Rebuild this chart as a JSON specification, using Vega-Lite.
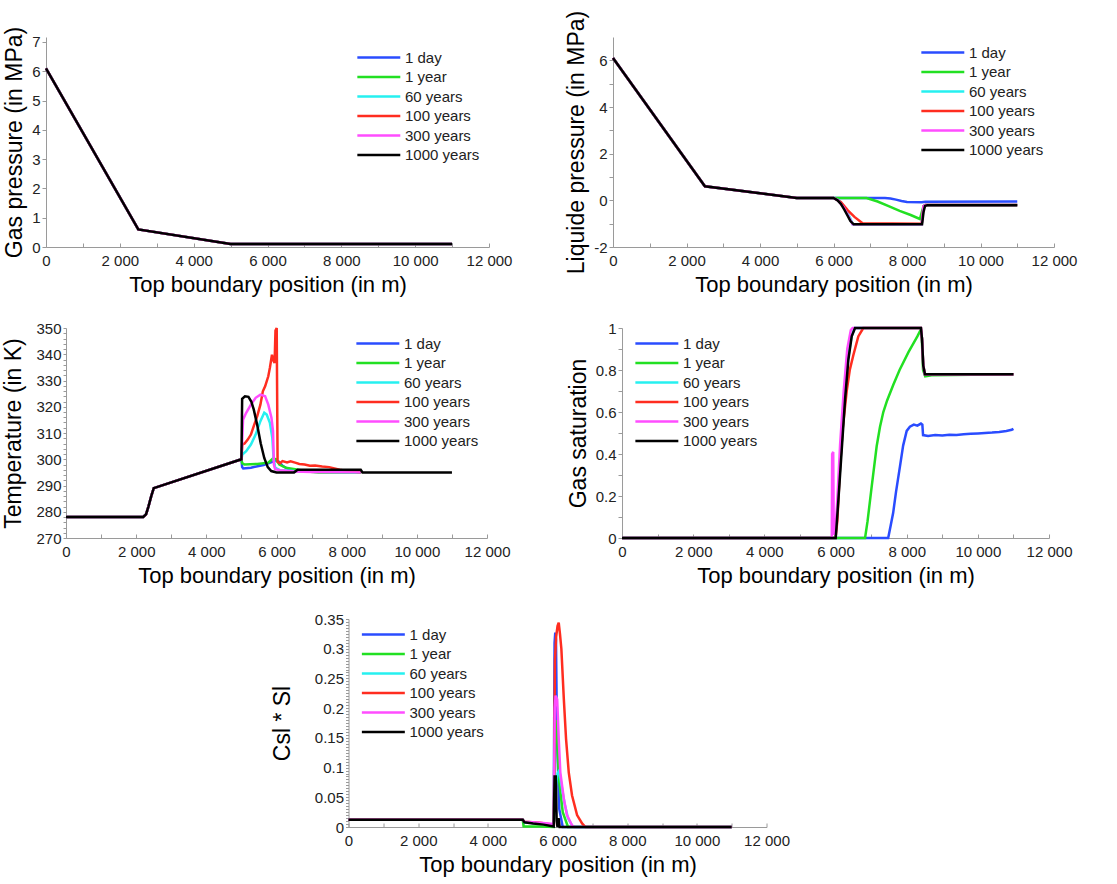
{
"$schema": "https://vega.github.io/schema/vega-lite/v6.json",
"padding": {"left": 2, "top": 10, "right": 5, "bottom": 5},
"background": "white",
"config": {
 "view": {"stroke": null},
 "axis": {"labelFont": "Liberation Sans", "titleFont": "Liberation Sans", "labelFontSize": 15, "titleFontSize": 22, "titleFontWeight": "normal", "labelColor": "#222222", "titleColor": "#000000", "domainColor": "#9a9a9a", "tickColor": "#9a9a9a", "grid": false, "labelOverlap": false, "labelFlush": false, "labelBound": false},
 "axisY": {"titleFontSize": 23, "tickSize": 4, "labelPadding": 2, "titlePadding": 5},
 "axisX": {"tickSize": -4, "labelPadding": 10, "titlePadding": 6},
 "legend": {"title": null, "labelFont": "Liberation Sans", "labelFontSize": 15, "labelColor": "#222222", "symbolType": "M-1,0H5", "symbolSize": 205, "symbolStrokeWidth": 3, "labelOffset": 32, "padding": 0, "rowPadding": 2.5, "orient": "none"},
 "line": {"strokeWidth": 2.5}
},
"datasets": {
 "gp": [
  {"t":"1 day","x":0,"y":6.1},{"t":"1 day","x":2500,"y":0.6},{"t":"1 day","x":5000,"y":0.1},{"t":"1 day","x":11000,"y":0.1},
  {"t":"1 year","x":0,"y":6.1},{"t":"1 year","x":2500,"y":0.6},{"t":"1 year","x":5000,"y":0.1},{"t":"1 year","x":11000,"y":0.1},
  {"t":"60 years","x":0,"y":6.1},{"t":"60 years","x":2500,"y":0.6},{"t":"60 years","x":5000,"y":0.1},{"t":"60 years","x":11000,"y":0.1},
  {"t":"100 years","x":0,"y":6.1},{"t":"100 years","x":2500,"y":0.6},{"t":"100 years","x":5000,"y":0.1},{"t":"100 years","x":11000,"y":0.1},
  {"t":"300 years","x":0,"y":6.1},{"t":"300 years","x":2500,"y":0.6},{"t":"300 years","x":5000,"y":0.1},{"t":"300 years","x":11000,"y":0.1},
  {"t":"1000 years","x":0,"y":6.1},{"t":"1000 years","x":2500,"y":0.6},{"t":"1000 years","x":5000,"y":0.1},{"t":"1000 years","x":11000,"y":0.1}
 ],
 "lp": [
  {"t":"1 day","x":0,"y":6.1},{"t":"1 day","x":2500,"y":0.6},{"t":"1 day","x":5000,"y":0.1},{"t":"1 day","x":6000,"y":0.1},{"t":"1 day","x":7400,"y":0.1},{"t":"1 day","x":7550,"y":0.08},{"t":"1 day","x":7700,"y":0.03},{"t":"1 day","x":7850,"y":-0.03},{"t":"1 day","x":8000,"y":-0.07},{"t":"1 day","x":8400,"y":-0.08},{"t":"1 day","x":8500,"y":-0.06},{"t":"1 day","x":11000,"y":-0.05},
  {"t":"1 year","x":0,"y":6.1},{"t":"1 year","x":2500,"y":0.6},{"t":"1 year","x":5000,"y":0.1},{"t":"1 year","x":6000,"y":0.1},{"t":"1 year","x":6900,"y":0.1},{"t":"1 year","x":7200,"y":-0.05},{"t":"1 year","x":7500,"y":-0.25},{"t":"1 year","x":7800,"y":-0.45},{"t":"1 year","x":8100,"y":-0.63},{"t":"1 year","x":8350,"y":-0.8},{"t":"1 year","x":8450,"y":-0.25},{"t":"1 year","x":8500,"y":-0.2},{"t":"1 year","x":11000,"y":-0.2},
  {"t":"60 years","x":0,"y":6.1},{"t":"60 years","x":2500,"y":0.6},{"t":"60 years","x":5000,"y":0.1},{"t":"60 years","x":6000,"y":0.1},{"t":"60 years","x":6150,"y":0.0},{"t":"60 years","x":6300,"y":-0.3},{"t":"60 years","x":6450,"y":-0.75},{"t":"60 years","x":6520,"y":-1.02},{"t":"60 years","x":8400,"y":-1.02},{"t":"60 years","x":8450,"y":-0.25},{"t":"60 years","x":8500,"y":-0.2},{"t":"60 years","x":11000,"y":-0.2},
  {"t":"100 years","x":0,"y":6.1},{"t":"100 years","x":2500,"y":0.6},{"t":"100 years","x":5000,"y":0.1},{"t":"100 years","x":6000,"y":0.1},{"t":"100 years","x":6200,"y":-0.07},{"t":"100 years","x":6390,"y":-0.43},{"t":"100 years","x":6570,"y":-0.71},{"t":"100 years","x":6790,"y":-0.98},{"t":"100 years","x":8400,"y":-1.0},{"t":"100 years","x":8450,"y":-0.25},{"t":"100 years","x":8500,"y":-0.2},{"t":"100 years","x":11000,"y":-0.2},
  {"t":"300 years","x":0,"y":6.1},{"t":"300 years","x":2500,"y":0.6},{"t":"300 years","x":5000,"y":0.1},{"t":"300 years","x":6000,"y":0.1},{"t":"300 years","x":6120,"y":0.0},{"t":"300 years","x":6280,"y":-0.3},{"t":"300 years","x":6440,"y":-0.78},{"t":"300 years","x":6520,"y":-1.02},{"t":"300 years","x":8400,"y":-1.02},{"t":"300 years","x":8450,"y":-0.25},{"t":"300 years","x":8500,"y":-0.2},{"t":"300 years","x":11000,"y":-0.2},
  {"t":"1000 years","x":0,"y":6.1},{"t":"1000 years","x":2500,"y":0.6},{"t":"1000 years","x":5000,"y":0.1},{"t":"1000 years","x":6000,"y":0.1},{"t":"1000 years","x":6110,"y":0.0},{"t":"1000 years","x":6200,"y":-0.15},{"t":"1000 years","x":6295,"y":-0.4},{"t":"1000 years","x":6380,"y":-0.65},{"t":"1000 years","x":6460,"y":-0.89},{"t":"1000 years","x":6550,"y":-1.03},{"t":"1000 years","x":8410,"y":-1.03},{"t":"1000 years","x":8450,"y":-0.5},{"t":"1000 years","x":8490,"y":-0.24},{"t":"1000 years","x":8550,"y":-0.21},{"t":"1000 years","x":11000,"y":-0.21}
 ],
 "temp": [
  {"t":"1 day","x":0,"y":278},{"t":"1 day","x":2200,"y":278},{"t":"1 day","x":2280,"y":279},{"t":"1 day","x":2350,"y":282},{"t":"1 day","x":2430,"y":286},{"t":"1 day","x":2500,"y":289},{"t":"1 day","x":5000,"y":300},
  {"t":"1 day","x":5020,"y":297},{"t":"1 day","x":5050,"y":296.5},{"t":"1 day","x":5270,"y":296.8},{"t":"1 day","x":5630,"y":297.8},{"t":"1 day","x":5880,"y":299},{"t":"1 day","x":5990,"y":299.6},{"t":"1 day","x":6080,"y":299},{"t":"1 day","x":6170,"y":297.5},{"t":"1 day","x":6350,"y":296.2},{"t":"1 day","x":6600,"y":295.6},{"t":"1 day","x":7000,"y":295.2},{"t":"1 day","x":8400,"y":295},
  {"t":"1 year","x":0,"y":278},{"t":"1 year","x":2200,"y":278},{"t":"1 year","x":2280,"y":279},{"t":"1 year","x":2350,"y":282},{"t":"1 year","x":2430,"y":286},{"t":"1 year","x":2500,"y":289},{"t":"1 year","x":5000,"y":300},
  {"t":"1 year","x":5020,"y":298.5},{"t":"1 year","x":5090,"y":298},{"t":"1 year","x":5450,"y":298.2},{"t":"1 year","x":5765,"y":298.7},{"t":"1 year","x":5900,"y":300.3},{"t":"1 year","x":5990,"y":300},{"t":"1 year","x":6080,"y":298},{"t":"1 year","x":6260,"y":296.8},{"t":"1 year","x":6530,"y":296.2},{"t":"1 year","x":6890,"y":295.3},{"t":"1 year","x":7200,"y":295},{"t":"1 year","x":8400,"y":295},
  {"t":"60 years","x":0,"y":278},{"t":"60 years","x":2200,"y":278},{"t":"60 years","x":2280,"y":279},{"t":"60 years","x":2350,"y":282},{"t":"60 years","x":2430,"y":286},{"t":"60 years","x":2500,"y":289},{"t":"60 years","x":5000,"y":300},
  {"t":"60 years","x":5025,"y":301.8},{"t":"60 years","x":5135,"y":303.1},{"t":"60 years","x":5270,"y":305.6},{"t":"60 years","x":5405,"y":309.4},{"t":"60 years","x":5540,"y":314.5},{"t":"60 years","x":5650,"y":317.7},{"t":"60 years","x":5720,"y":317},{"t":"60 years","x":5810,"y":313.9},{"t":"60 years","x":5880,"y":308.2},{"t":"60 years","x":5915,"y":300.6},{"t":"60 years","x":5960,"y":296.8},{"t":"60 years","x":6100,"y":295.8},{"t":"60 years","x":6500,"y":295.5},{"t":"60 years","x":7000,"y":295.2},{"t":"60 years","x":8400,"y":295},
  {"t":"100 years","x":0,"y":278},{"t":"100 years","x":2200,"y":278},{"t":"100 years","x":2280,"y":279},{"t":"100 years","x":2350,"y":282},{"t":"100 years","x":2430,"y":286},{"t":"100 years","x":2500,"y":289},{"t":"100 years","x":5000,"y":300},
  {"t":"100 years","x":5025,"y":305.6},{"t":"100 years","x":5090,"y":306},{"t":"100 years","x":5180,"y":307.5},{"t":"100 years","x":5270,"y":309.4},{"t":"100 years","x":5360,"y":313},{"t":"100 years","x":5450,"y":316.4},{"t":"100 years","x":5540,"y":320.8},{"t":"100 years","x":5610,"y":325.9},{"t":"100 years","x":5675,"y":327.8},{"t":"100 years","x":5765,"y":331.6},{"t":"100 years","x":5810,"y":334.8},{"t":"100 years","x":5870,"y":339.8},{"t":"100 years","x":5900,"y":337.9},{"t":"100 years","x":5945,"y":336.7},{"t":"100 years","x":5970,"y":349},{"t":"100 years","x":6005,"y":350},{"t":"100 years","x":6030,"y":299},{"t":"100 years","x":6100,"y":298.5},{"t":"100 years","x":6170,"y":299.3},{"t":"100 years","x":6300,"y":298.8},{"t":"100 years","x":6400,"y":299.2},{"t":"100 years","x":6530,"y":298.7},{"t":"100 years","x":6650,"y":298.2},{"t":"100 years","x":6800,"y":298},{"t":"100 years","x":6950,"y":297.5},{"t":"100 years","x":7100,"y":297.6},{"t":"100 years","x":7300,"y":297.2},{"t":"100 years","x":7500,"y":297},{"t":"100 years","x":7650,"y":296.5},{"t":"100 years","x":7800,"y":296},{"t":"100 years","x":8000,"y":295.5},{"t":"100 years","x":8400,"y":295},
  {"t":"300 years","x":0,"y":278},{"t":"300 years","x":2200,"y":278},{"t":"300 years","x":2280,"y":279},{"t":"300 years","x":2350,"y":282},{"t":"300 years","x":2430,"y":286},{"t":"300 years","x":2500,"y":289},{"t":"300 years","x":5000,"y":300},
  {"t":"300 years","x":5045,"y":315.1},{"t":"300 years","x":5135,"y":317.7},{"t":"300 years","x":5270,"y":320.8},{"t":"300 years","x":5405,"y":323.4},{"t":"300 years","x":5540,"y":324.6},{"t":"300 years","x":5675,"y":324},{"t":"300 years","x":5765,"y":320.8},{"t":"300 years","x":5855,"y":315.8},{"t":"300 years","x":5900,"y":310.7},{"t":"300 years","x":5925,"y":298},{"t":"300 years","x":5960,"y":296.2},{"t":"300 years","x":6100,"y":295.8},{"t":"300 years","x":6500,"y":295.3},{"t":"300 years","x":7000,"y":295.1},{"t":"300 years","x":8400,"y":295},
  {"t":"1000 years","x":0,"y":278},{"t":"1000 years","x":2200,"y":278},{"t":"1000 years","x":2280,"y":279},{"t":"1000 years","x":2350,"y":282},{"t":"1000 years","x":2430,"y":286},{"t":"1000 years","x":2500,"y":289},{"t":"1000 years","x":5000,"y":300},
  {"t":"1000 years","x":5020,"y":323},{"t":"1000 years","x":5100,"y":324},{"t":"1000 years","x":5200,"y":323.8},{"t":"1000 years","x":5280,"y":322},{"t":"1000 years","x":5350,"y":319},{"t":"1000 years","x":5450,"y":313},{"t":"1000 years","x":5550,"y":306},{"t":"1000 years","x":5650,"y":300.5},{"t":"1000 years","x":5750,"y":297},{"t":"1000 years","x":5850,"y":295.5},{"t":"1000 years","x":6000,"y":295},{"t":"1000 years","x":6500,"y":295},{"t":"1000 years","x":6600,"y":296},{"t":"1000 years","x":8400,"y":296},{"t":"1000 years","x":8450,"y":295},{"t":"1000 years","x":11000,"y":295}
 ],
 "sat": [
  {"t":"1 day","x":0,"y":0},{"t":"1 day","x":7480,"y":0},{"t":"1 day","x":7550,"y":0.06},{"t":"1 day","x":7620,"y":0.12},{"t":"1 day","x":7700,"y":0.22},{"t":"1 day","x":7810,"y":0.34},{"t":"1 day","x":7900,"y":0.44},{"t":"1 day","x":8000,"y":0.51},{"t":"1 day","x":8090,"y":0.53},{"t":"1 day","x":8200,"y":0.54},{"t":"1 day","x":8300,"y":0.535},{"t":"1 day","x":8400,"y":0.545},{"t":"1 day","x":8440,"y":0.54},{"t":"1 day","x":8460,"y":0.49},{"t":"1 day","x":8600,"y":0.486},{"t":"1 day","x":8800,"y":0.49},{"t":"1 day","x":9000,"y":0.488},{"t":"1 day","x":9200,"y":0.492},{"t":"1 day","x":9400,"y":0.49},{"t":"1 day","x":9600,"y":0.494},{"t":"1 day","x":9800,"y":0.496},{"t":"1 day","x":10000,"y":0.498},{"t":"1 day","x":10200,"y":0.5},{"t":"1 day","x":10400,"y":0.502},{"t":"1 day","x":10600,"y":0.505},{"t":"1 day","x":10800,"y":0.51},{"t":"1 day","x":10950,"y":0.515},{"t":"1 day","x":11000,"y":0.52},
  {"t":"1 year","x":0,"y":0},{"t":"1 year","x":6830,"y":0},{"t":"1 year","x":6900,"y":0.08},{"t":"1 year","x":7016,"y":0.245},{"t":"1 year","x":7156,"y":0.437},{"t":"1 year","x":7250,"y":0.53},{"t":"1 year","x":7343,"y":0.6},{"t":"1 year","x":7450,"y":0.655},{"t":"1 year","x":7624,"y":0.73},{"t":"1 year","x":7800,"y":0.8},{"t":"1 year","x":8050,"y":0.885},{"t":"1 year","x":8300,"y":0.96},{"t":"1 year","x":8390,"y":0.99},{"t":"1 year","x":8420,"y":0.97},{"t":"1 year","x":8460,"y":0.8},{"t":"1 year","x":8520,"y":0.77},{"t":"1 year","x":8700,"y":0.775},{"t":"1 year","x":11000,"y":0.78},
  {"t":"60 years","x":0,"y":0},{"t":"60 years","x":5995,"y":0},{"t":"60 years","x":6060,"y":0.15},{"t":"60 years","x":6160,"y":0.42},{"t":"60 years","x":6260,"y":0.66},{"t":"60 years","x":6350,"y":0.85},{"t":"60 years","x":6450,"y":0.96},{"t":"60 years","x":6540,"y":1.0},{"t":"60 years","x":8400,"y":1.0},{"t":"60 years","x":8430,"y":0.95},{"t":"60 years","x":8466,"y":0.82},{"t":"60 years","x":8513,"y":0.78},{"t":"60 years","x":11000,"y":0.78},
  {"t":"100 years","x":0,"y":0},{"t":"100 years","x":6000,"y":0},{"t":"100 years","x":6050,"y":0.08},{"t":"100 years","x":6127,"y":0.34},{"t":"100 years","x":6200,"y":0.52},{"t":"100 years","x":6314,"y":0.7},{"t":"100 years","x":6400,"y":0.8},{"t":"100 years","x":6500,"y":0.87},{"t":"100 years","x":6640,"y":0.96},{"t":"100 years","x":6780,"y":1.0},{"t":"100 years","x":8400,"y":1.0},{"t":"100 years","x":8430,"y":0.95},{"t":"100 years","x":8466,"y":0.82},{"t":"100 years","x":8513,"y":0.78},{"t":"100 years","x":11000,"y":0.78},
  {"t":"300 years","x":0,"y":0},{"t":"300 years","x":5895,"y":0},{"t":"300 years","x":5905,"y":0.4},{"t":"300 years","x":5935,"y":0.41},{"t":"300 years","x":5950,"y":0.02},{"t":"300 years","x":5990,"y":0.02},{"t":"300 years","x":6040,"y":0.15},{"t":"300 years","x":6130,"y":0.45},{"t":"300 years","x":6230,"y":0.7},{"t":"300 years","x":6330,"y":0.9},{"t":"300 years","x":6430,"y":0.99},{"t":"300 years","x":6480,"y":1.0},{"t":"300 years","x":8400,"y":1.0},{"t":"300 years","x":8430,"y":0.95},{"t":"300 years","x":8466,"y":0.82},{"t":"300 years","x":8513,"y":0.78},{"t":"300 years","x":11000,"y":0.78},
  {"t":"1000 years","x":0,"y":0},{"t":"1000 years","x":6005,"y":0},{"t":"1000 years","x":6080,"y":0.18},{"t":"1000 years","x":6174,"y":0.42},{"t":"1000 years","x":6268,"y":0.66},{"t":"1000 years","x":6361,"y":0.85},{"t":"1000 years","x":6455,"y":0.96},{"t":"1000 years","x":6548,"y":1.0},{"t":"1000 years","x":8400,"y":1.0},{"t":"1000 years","x":8430,"y":0.95},{"t":"1000 years","x":8466,"y":0.82},{"t":"1000 years","x":8513,"y":0.78},{"t":"1000 years","x":11000,"y":0.78}
 ],
 "csl": [
  {"t":"1 day","x":0,"y":0.012},{"t":"1 day","x":5000,"y":0.012},{"t":"1 day","x":5050,"y":0.008},{"t":"1 day","x":5500,"y":0.006},{"t":"1 day","x":5890,"y":0.004},{"t":"1 day","x":5915,"y":0.31},{"t":"1 day","x":5935,"y":0.327},{"t":"1 day","x":5955,"y":0.315},{"t":"1 day","x":5985,"y":0.15},{"t":"1 day","x":6050,"y":0.03},{"t":"1 day","x":6150,"y":0.0},{"t":"1 day","x":11000,"y":0.0},
  {"t":"1 year","x":0,"y":0.012},{"t":"1 year","x":5000,"y":0.012},{"t":"1 year","x":5030,"y":0.001},{"t":"1 year","x":5500,"y":0.001},{"t":"1 year","x":5890,"y":0.0},{"t":"1 year","x":5925,"y":0.16},{"t":"1 year","x":5950,"y":0.18},{"t":"1 year","x":5980,"y":0.16},{"t":"1 year","x":6040,"y":0.08},{"t":"1 year","x":6150,"y":0.025},{"t":"1 year","x":6300,"y":0.0},{"t":"1 year","x":11000,"y":0.0},
  {"t":"60 years","x":0,"y":0.012},{"t":"60 years","x":5000,"y":0.012},{"t":"60 years","x":5050,"y":0.008},{"t":"60 years","x":5500,"y":0.006},{"t":"60 years","x":5890,"y":0.003},{"t":"60 years","x":5930,"y":0.06},{"t":"60 years","x":6000,"y":0.09},{"t":"60 years","x":6050,"y":0.095},{"t":"60 years","x":6100,"y":0.075},{"t":"60 years","x":6200,"y":0.04},{"t":"60 years","x":6300,"y":0.015},{"t":"60 years","x":6420,"y":0.002},{"t":"60 years","x":6500,"y":0.0},{"t":"60 years","x":11000,"y":0.0},
  {"t":"100 years","x":0,"y":0.012},{"t":"100 years","x":5000,"y":0.012},{"t":"100 years","x":5050,"y":0.009},{"t":"100 years","x":5500,"y":0.007},{"t":"100 years","x":5895,"y":0.004},{"t":"100 years","x":5925,"y":0.28},{"t":"100 years","x":5960,"y":0.32},{"t":"100 years","x":6000,"y":0.338},{"t":"100 years","x":6034,"y":0.344},{"t":"100 years","x":6070,"y":0.325},{"t":"100 years","x":6110,"y":0.3},{"t":"100 years","x":6180,"y":0.216},{"t":"100 years","x":6245,"y":0.148},{"t":"100 years","x":6322,"y":0.092},{"t":"100 years","x":6417,"y":0.053},{"t":"100 years","x":6561,"y":0.02},{"t":"100 years","x":6705,"y":0.006},{"t":"100 years","x":6800,"y":0.0},{"t":"100 years","x":11000,"y":0.0},
  {"t":"300 years","x":0,"y":0.012},{"t":"300 years","x":5000,"y":0.012},{"t":"300 years","x":5050,"y":0.009},{"t":"300 years","x":5500,"y":0.007},{"t":"300 years","x":5890,"y":0.005},{"t":"300 years","x":5920,"y":0.2},{"t":"300 years","x":5945,"y":0.221},{"t":"300 years","x":5990,"y":0.215},{"t":"300 years","x":6035,"y":0.148},{"t":"300 years","x":6080,"y":0.092},{"t":"300 years","x":6180,"y":0.048},{"t":"300 years","x":6270,"y":0.02},{"t":"300 years","x":6415,"y":0.003},{"t":"300 years","x":6480,"y":0.0},{"t":"300 years","x":11000,"y":0.0},
  {"t":"1000 years","x":0,"y":0.012},{"t":"1000 years","x":5000,"y":0.012},{"t":"1000 years","x":5050,"y":0.008},{"t":"1000 years","x":5300,"y":0.006},{"t":"1000 years","x":5600,"y":0.004},{"t":"1000 years","x":5890,"y":0.001},{"t":"1000 years","x":5915,"y":0.085},{"t":"1000 years","x":5950,"y":0.085},{"t":"1000 years","x":5975,"y":0.01},{"t":"1000 years","x":6000,"y":0.0},{"t":"1000 years","x":6030,"y":0.015},{"t":"1000 years","x":6060,"y":0.0},{"t":"1000 years","x":11000,"y":0.0}
 ]
},
"vconcat": [
 {
  "hconcat": [
   {
    "width": 443, "height": 210,
    "data": {"name": "gp"},
    "mark": {"type": "line"},
    "encoding": {
     "x": {"field": "x", "type": "quantitative", "title": "Top boundary position (in m)", "scale": {"domain": [0, 12000], "nice": false}, "axis": {"values": [0,1000,2000,3000,4000,5000,6000,7000,8000,9000,10000,11000,12000], "labelExpr": "datum.value % 2000 == 0 ? replace(format(datum.value, ','), ',', ' ') : ''"}},
     "y": {"field": "y", "type": "quantitative", "title": "Gas pressure (in MPa)", "scale": {"domain": [0, 7.17], "nice": false}, "axis": {"values": [0,1,2,3,4,5,6,7], "labelExpr": "'' + datum.value"}},
     "color": {"field": "t", "type": "nominal", "scale": {"domain": ["1 day","1 year","60 years","100 years","300 years","1000 years"], "range": ["#2a4cff","#22e022","#26f0f0","#ff2d20","#ff4dff","#000000"]}, "legend": {"legendX": 310, "legendY": 12}}
    }
   },
   {
    "width": 441, "height": 210,
    "data": {"name": "lp"},
    "mark": {"type": "line"},
    "encoding": {
     "x": {"field": "x", "type": "quantitative", "title": "Top boundary position (in m)", "scale": {"domain": [0, 12000], "nice": false}, "axis": {"values": [0,1000,2000,3000,4000,5000,6000,7000,8000,9000,10000,11000,12000], "labelExpr": "datum.value % 2000 == 0 ? replace(format(datum.value, ','), ',', ' ') : ''"}},
     "y": {"field": "y", "type": "quantitative", "title": "Liquide pressure (in MPa)", "scale": {"domain": [-2, 7], "nice": false}, "axis": {"values": [-2,-1,0,1,2,3,4,5,6], "labelExpr": "datum.value % 2 == 0 ? '' + datum.value : ''"}},
     "color": {"field": "t", "type": "nominal", "scale": {"domain": ["1 day","1 year","60 years","100 years","300 years","1000 years"], "range": ["#2a4cff","#22e022","#26f0f0","#ff2d20","#ff4dff","#000000"]}, "legend": {"legendX": 307, "legendY": 7, "title": " ", "titleOrient": "right", "titlePadding": 49, "titleFontSize": 15}}
    }
   }
  ],
  "spacing": 124,
  "bounds": "flush",
  "resolve": {"scale": {"color": "independent"}, "legend": {"color": "independent"}}
 },
 {
  "hconcat": [
   {
    "width": 421, "height": 210,
    "data": {"name": "temp"},
    "mark": {"type": "line"},
    "encoding": {
     "x": {"field": "x", "type": "quantitative", "title": "Top boundary position (in m)", "scale": {"domain": [0, 12000], "nice": false}, "axis": {"values": [0,1000,2000,3000,4000,5000,6000,7000,8000,9000,10000,11000,12000], "labelExpr": "datum.value % 2000 == 0 ? replace(format(datum.value, ','), ',', ' ') : ''"}},
     "y": {"field": "y", "type": "quantitative", "title": "Temperature (in K)", "scale": {"domain": [270, 350], "nice": false}, "axis": {"values": [270,272,274,276,278,280,282,284,286,288,290,292,294,296,298,300,302,304,306,308,310,312,314,316,318,320,322,324,326,328,330,332,334,336,338,340,342,344,346,348,350], "labelExpr": "datum.value % 10 == 0 ? '' + datum.value : ''", "tickSize": 3, "titlePadding": 11}},
     "color": {"field": "t", "type": "nominal", "scale": {"domain": ["1 day","1 year","60 years","100 years","300 years","1000 years"], "range": ["#2a4cff","#22e022","#26f0f0","#ff2d20","#ff4dff","#000000"]}, "legend": {"legendX": 289, "legendY": 7}}
    }
   },
   {
    "width": 427, "height": 210,
    "data": {"name": "sat"},
    "mark": {"type": "line"},
    "encoding": {
     "x": {"field": "x", "type": "quantitative", "title": "Top boundary position (in m)", "scale": {"domain": [0, 12000], "nice": false}, "axis": {"values": [0,1000,2000,3000,4000,5000,6000,7000,8000,9000,10000,11000,12000], "labelExpr": "datum.value % 2000 == 0 ? replace(format(datum.value, ','), ',', ' ') : ''"}},
     "y": {"field": "y", "type": "quantitative", "title": "Gas saturation", "scale": {"domain": [0, 1], "nice": false}, "axis": {"values": [0,0.1,0.2,0.3,0.4,0.5,0.6,0.7,0.8,0.9,1], "labelExpr": "round(datum.value * 10) % 2 == 0 ? '' + datum.value : ''"}},
     "color": {"field": "t", "type": "nominal", "scale": {"domain": ["1 day","1 year","60 years","100 years","300 years","1000 years"], "range": ["#2a4cff","#22e022","#26f0f0","#ff2d20","#ff4dff","#000000"]}, "legend": {"legendX": 12, "legendY": 7}}
    }
   }
  ],
  "spacing": 135,
  "bounds": "flush",
  "resolve": {"scale": {"color": "independent"}, "legend": {"color": "independent"}}
 },
 {
  "width": 418, "height": 208,
  "data": {"name": "csl"},
  "mark": {"type": "line"},
  "encoding": {
   "x": {"field": "x", "type": "quantitative", "title": "Top boundary position (in m)", "scale": {"domain": [0, 12000], "nice": false}, "axis": {"values": [0,1000,2000,3000,4000,5000,6000,7000,8000,9000,10000,11000,12000], "labelExpr": "datum.value % 2000 == 0 ? replace(format(datum.value, ','), ',', ' ') : ''"}},
   "y": {"field": "y", "type": "quantitative", "title": "Csl * Sl", "scale": {"domain": [0, 0.35], "nice": false}, "axis": {"values": [0,0.005,0.01,0.015,0.02,0.025,0.03,0.035,0.04,0.045,0.05,0.055,0.06,0.065,0.07,0.075,0.08,0.085,0.09,0.095,0.1,0.105,0.11,0.115,0.12,0.125,0.13,0.135,0.14,0.145,0.15,0.155,0.16,0.165,0.17,0.175,0.18,0.185,0.19,0.195,0.2,0.205,0.21,0.215,0.22,0.225,0.23,0.235,0.24,0.245,0.25,0.255,0.26,0.265,0.27,0.275,0.28,0.285,0.29,0.295,0.3,0.305,0.31,0.315,0.32,0.325,0.33,0.335,0.34,0.345,0.35], "labelExpr": "round(datum.value * 1000) % 50 == 0 ? '' + datum.value : ''", "tickSize": 3, "titlePadding": 20}},
   "color": {"field": "t", "type": "nominal", "scale": {"domain": ["1 day","1 year","60 years","100 years","300 years","1000 years"], "range": ["#2a4cff","#22e022","#26f0f0","#ff2d20","#ff4dff","#000000"]}, "legend": {"legendX": 12, "legendY": 7}}
  }
 }
],
"spacing": 26,
"center": true,
"resolve": {"scale": {"color": "independent"}, "legend": {"color": "independent"}}
}
